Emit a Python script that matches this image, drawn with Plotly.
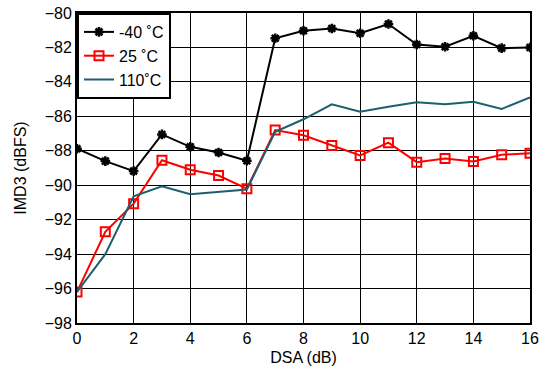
import plotly.graph_objects as go

dsa = list(range(17))
imd_m40 = [-87.88, -88.6, -89.18, -87.05, -87.77, -88.1, -88.58, -81.47, -81.03, -80.9,
           -81.18, -80.64, -81.83, -81.96, -81.32, -82.04, -82.0]
imd_25 = [-96.2, -92.7, -91.07, -88.55, -89.1, -89.44, -90.2, -86.8, -87.1, -87.7,
          -88.27, -87.53, -88.66, -88.45, -88.62, -88.23, -88.14]
imd_110 = [-96.2, -94.0, -90.64, -90.06, -90.52, -90.38, -90.25, -86.9, -86.17, -85.3,
           -85.73, -85.44, -85.18, -85.3, -85.15, -85.57, -84.9]
x_ticks = list(range(0, 17, 2))
y_ticks = list(range(-98, -79, 2))
names = ["-40 \u02daC", "25 \u02daC", "110\u02daC"]

fig = go.Figure()
fig.add_trace(go.Scatter(x=dsa, y=imd_m40, name=names[0], mode="lines+markers",
                         line=dict(color="black", width=2),
                         marker=dict(symbol="asterisk-open", size=8, color="black",
                                     line=dict(color="black", width=2.5))))
fig.add_trace(go.Scatter(x=dsa, y=imd_25, name=names[1], mode="lines+markers",
                         line=dict(color="#ff0000", width=2),
                         marker=dict(symbol="square-open", size=9, color="#ff0000",
                                     line=dict(color="#ff0000", width=2))))
fig.add_trace(go.Scatter(x=dsa, y=imd_110, name=names[2], mode="lines",
                         line=dict(color="#1d5f6e", width=2)))

fig.update_layout(
    width=546, height=370,
    margin=dict(l=77, r=16, t=13, b=47, autoexpand=False),
    paper_bgcolor="white", plot_bgcolor="white",
    font=dict(family="Liberation Sans, Arial, sans-serif", size=16, color="black"),
    showlegend=True,
    legend=dict(x=0, y=1, xanchor="left", yanchor="top",
                bgcolor="white", bordercolor="black", borderwidth=2,
                font=dict(size=16), tracegroupgap=0, itemwidth=30),
    xaxis=dict(range=[0, 16], tickvals=x_ticks, showgrid=True, gridcolor="black",
               gridwidth=1, showline=True, linecolor="black", linewidth=2, mirror=True,
               ticks="", zeroline=False, automargin=False,
               title=dict(text="DSA (dB)", standoff=6, font=dict(size=16))),
    yaxis=dict(range=[-98, -80], tickvals=y_ticks, showgrid=True, gridcolor="black",
               gridwidth=1, showline=True, linecolor="black", linewidth=2, mirror=True,
               ticks="", zeroline=False, automargin=False,
               title=dict(text="IMD3 (dBFS)", standoff=14, font=dict(size=16))),
)

fig.write_html("out.html", config={"displayModeBar": False},
               post_script="document.body.style.margin='0';")
